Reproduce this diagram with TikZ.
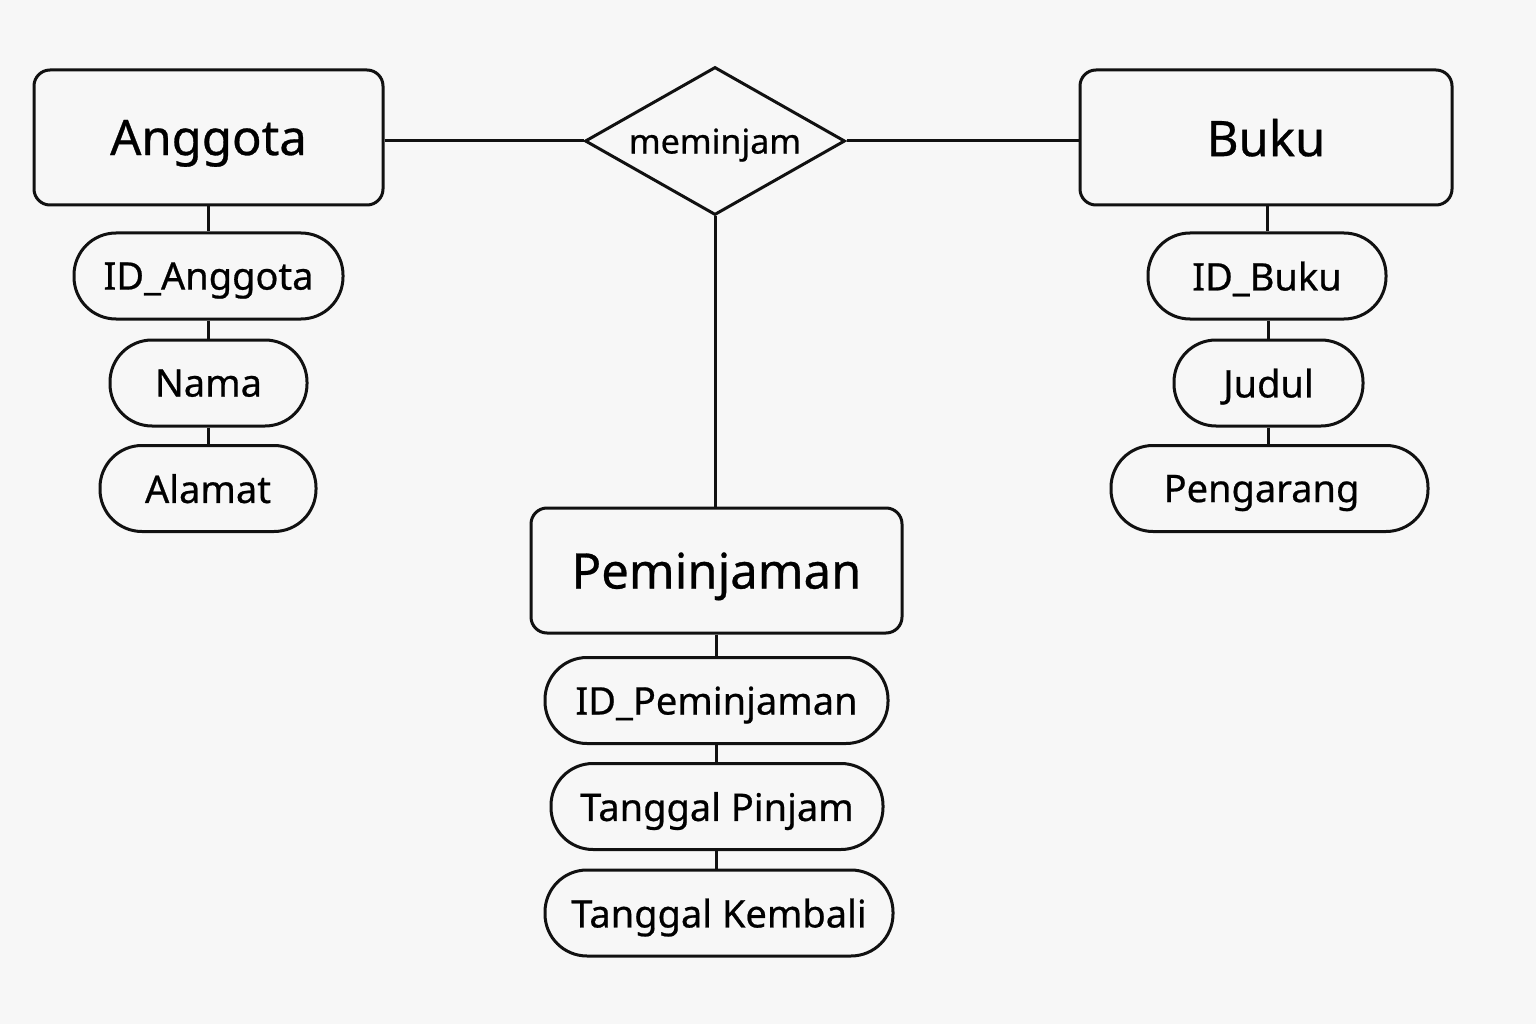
\documentclass[tikz,border=0pt]{standalone}
\usepackage{fontspec}
\setmainfont{Noto Sans}[FakeBold=0.6,AutoFakeBold=0.6]
\usetikzlibrary{shapes.geometric}
\definecolor{bg}{HTML}{F7F7F7}
\definecolor{ink}{HTML}{111111}
\begin{document}
\begin{tikzpicture}[x=1pt,y=-1pt,
  every node/.style={text depth=0pt},
  entity/.style={draw=ink,line width=3pt,rounded corners=16pt,inner sep=0pt,font=\fontsize{49}{51}\bfseries},
  attr/.style={draw=ink,line width=3pt,rounded corners=42pt,inner sep=0pt,minimum height=86pt,font=\fontsize{38}{40}\bfseries},
  rel/.style={draw=ink,line width=3pt,diamond,inner sep=0pt,minimum width=260pt,minimum height=148pt,font=\fontsize{34}{36}\bfseries},
  conn/.style={draw=ink,line width=3pt}]
\fill[bg] (0,0) rectangle (1536,1024);
\useasboundingbox (0,0) rectangle (1536,1024);
% entities
\node[entity,minimum width=349pt,minimum height=135pt] (anggota) at (208.5,137.5) {Anggota};
\node[entity,minimum width=372pt,minimum height=135pt] (buku) at (1266,137.5) {Buku};
\node[entity,minimum width=371pt,minimum height=125pt] (peminjaman) at (716.5,570.5) {Peminjaman};
\node[rel,aspect=1.76] (meminjam) at (715,141) {meminjam};
% attributes Anggota
\node[attr,minimum width=269pt] (idang) at (208.5,276) {ID\_Anggota};
\node[attr,minimum width=197pt] (nama) at (208.5,383) {Nama};
\node[attr,minimum width=216pt] (alamat) at (208,488.5) {Alamat};
% attributes Buku
\node[attr,minimum width=238pt] (idbuku) at (1267,276) {ID\_Buku};
\node[attr,minimum width=189pt] (judul) at (1268.5,383) {Judul};
\node[attr,minimum width=317pt] (pengarang) at (1269.5,488.5) {Pengarang\kern16pt};
% attributes Peminjaman
\node[attr,minimum width=343pt] (idpem) at (716.5,700.5) {ID\_Peminjaman};
\node[attr,minimum width=332pt] (tglp) at (717,806.5) {Tanggal Pinjam};
\node[attr,minimum width=348pt] (tglk) at (719,913) {Tanggal Kembali};
% connectors
\draw[conn] (meminjam.west -| anggota.east) -- (meminjam.west);
\draw[conn] (meminjam.east) -- (meminjam.east -| buku.west);
\draw[conn] (meminjam.south) -- (meminjam.south |- peminjaman.north);
\draw[conn] (anggota.south) -- (idang.north);
\draw[conn] (idang.south) -- (nama.north);
\draw[conn] (nama.south) -- (nama.south |- alamat.north);
\draw[conn] (buku.south -| idbuku.north) -- (idbuku.north);
\draw[conn] (idbuku.south -| judul.north) -- (judul.north);
\draw[conn] (judul.south) -- (judul.south |- pengarang.north);
\draw[conn] (peminjaman.south) -- (peminjaman.south |- idpem.north);
\draw[conn] (idpem.south -| peminjaman.south) -- (peminjaman.south |- tglp.north);
\draw[conn] (tglp.south -| peminjaman.south) -- (peminjaman.south |- tglk.north);
\end{tikzpicture}
\end{document}
